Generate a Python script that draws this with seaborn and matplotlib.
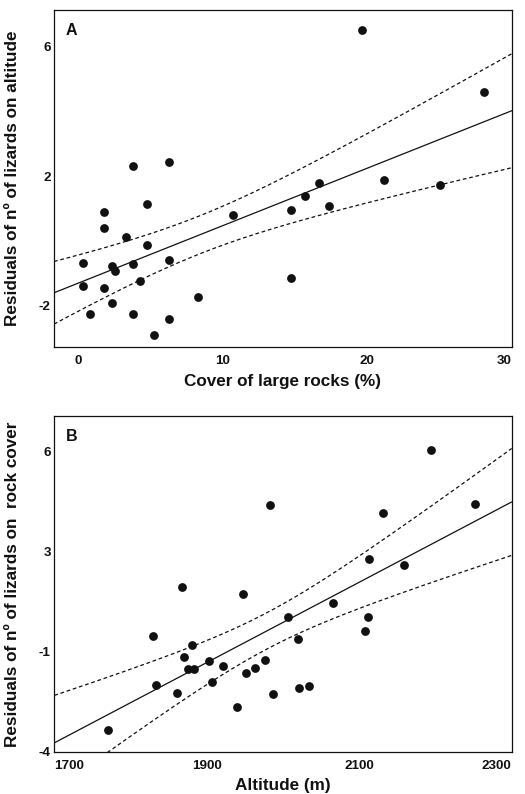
import matplotlib
matplotlib.use("Agg")
import matplotlib.pyplot as plt
import numpy as np
import seaborn as sns

# panel A: cover of large rocks (%) vs residuals on altitude
rock_cover = [19.64, 28.06, 3.76, 6.27, 16.65, 21.14, 25.01, 15.68, 4.75, 1.80,
              1.80, 3.30, 4.75, 10.70, 14.69, 17.34, 0.33, 2.35, 2.52, 3.76,
              6.27, 4.29, 0.33, 1.80, 14.69, 8.26, 2.35, 0.81, 3.76, 6.27, 5.26]
resid_alt = [6.52, 4.59, 2.31, 2.45, 1.80, 1.88, 1.73, 1.38, 1.13, 0.89,
             0.39, 0.12, -0.14, 0.80, 0.95, 1.08, -0.70, -0.78, -0.94, -0.72,
             -0.60, -1.25, -1.41, -1.47, -1.15, -1.74, -1.92, -2.28, -2.28, -2.43, -2.93]

# panel B: altitude (m) vs residuals on rock cover
altitude = [2194, 1983, 2131, 2252, 2113, 2159, 1868, 1948, 2065, 2006,
            2111, 2108, 1830, 2020, 1881, 1870, 1903, 1977, 1875, 1883,
            1921, 1963, 1951, 1907, 1833, 2021, 2034, 1861, 1987, 1940, 1770]
resid_rock = [6.06, 4.25, 3.97, 4.28, 2.45, 2.23, 1.50, 1.28, 0.97, 0.50,
              0.50, 0.02, -0.12, -0.23, -0.42, -0.82, -0.98, -0.92, -1.23, -1.23,
              -1.13, -1.19, -1.37, -1.65, -1.75, -1.87, -1.81, -2.04, -2.07, -2.49, -3.27]

a_xticks = [0, 10, 20, 30]
a_yticks = [6, 2, -2]
b_xticks = [1700, 1900, 2100, 2300]
b_yticks = [6, 6 - 10 / 3, 6 - 20 / 3, -4]
b_ylabels = ["6", "3", "-1", "-4"]

sns.set_style("white")
plt.rcParams["font.family"] = ["Liberation Sans", "DejaVu Sans"]
plt.rcParams["font.weight"] = "bold"

T975 = 2.045  # t quantile, df = 29
INK = "#111111"


def panel(ax, x, y, xlim, ylim, letter, xlabel, ylabel, xlab_y):
    ax.set_xlim(xlim)
    ax.set_ylim(ylim)
    sns.regplot(x=x, y=y, ax=ax, ci=None, truncate=False,
                scatter_kws=dict(s=40, color=INK, linewidths=0, alpha=1),
                line_kws=dict(color=INK, lw=0.9))
    # 95% confidence band of the fit, drawn as dashed lines
    x = np.asarray(x, float)
    y = np.asarray(y, float)
    b, a = np.polyfit(x, y, 1)
    n = len(x)
    s = np.sqrt(np.sum((y - (a + b * x)) ** 2) / (n - 2))
    xx = np.linspace(xlim[0], xlim[1], 200)
    se = s * np.sqrt(1 / n + (xx - x.mean()) ** 2 / np.sum((x - x.mean()) ** 2))
    for sign in (1, -1):
        ax.plot(xx, a + b * xx + sign * T975 * se, color=INK, lw=0.9,
                dashes=(3, 2.2))
    ax.set_xlim(xlim)
    ax.set_ylim(ylim)
    for sp in ax.spines.values():
        sp.set_visible(True)
        sp.set_color(INK)
        sp.set_linewidth(0.9)
    ax.tick_params(length=0, labelsize=9.7, colors=INK)
    ax.tick_params(axis="x", pad=6)
    ax.tick_params(axis="y", pad=2.5)
    ax.text(0.026, 0.96, letter, transform=ax.transAxes, fontsize=11.5,
            fontweight="bold", va="top", ha="left", color=INK)
    ax.set_xlabel(xlabel, fontsize=12.3, fontweight="bold", color=INK)
    ax.set_ylabel(ylabel, fontsize=12.3, fontweight="bold", color=INK)
    ax.xaxis.set_label_coords(0.5, xlab_y)
    ax.yaxis.set_label_coords(-0.075, 0.5)


fig = plt.figure(figsize=(5.25, 7.94), dpi=100)
ax1 = fig.add_axes([54 / 525, 1 - 347 / 794, 458 / 525, 337 / 794])
ax2 = fig.add_axes([54.3 / 525, 1 - 752 / 794, 457.4 / 525, 336 / 794])

panel(ax1, rock_cover, resid_alt, (-1.68, 30), (-3.29, 7.14), "A",
      "Cover of large rocks (%)", "Residuals of nº of lizards on altitude", -0.080)
ax1.set_xticks(a_xticks)
ax1.set_xticklabels([str(t) for t in a_xticks])
ax1.set_yticks(a_yticks)
ax1.set_yticklabels([str(t) for t in a_yticks])
ax1.get_xticklabels()[-1].set_ha("right")

panel(ax2, altitude, resid_rock, (1700, 2300), (-4, 7.2), "B",
      "Altitude (m)", "Residuals of nº of lizards on  rock cover", -0.077)
ax2.set_xticks(b_xticks)
ax2.set_xticklabels([str(t) for t in b_xticks])
ax2.set_yticks(b_yticks)
ax2.set_yticklabels(b_ylabels)
ax2.get_xticklabels()[0].set_ha("left")
ax2.get_xticklabels()[-1].set_ha("right")

fig.savefig("out.png", dpi=100)
